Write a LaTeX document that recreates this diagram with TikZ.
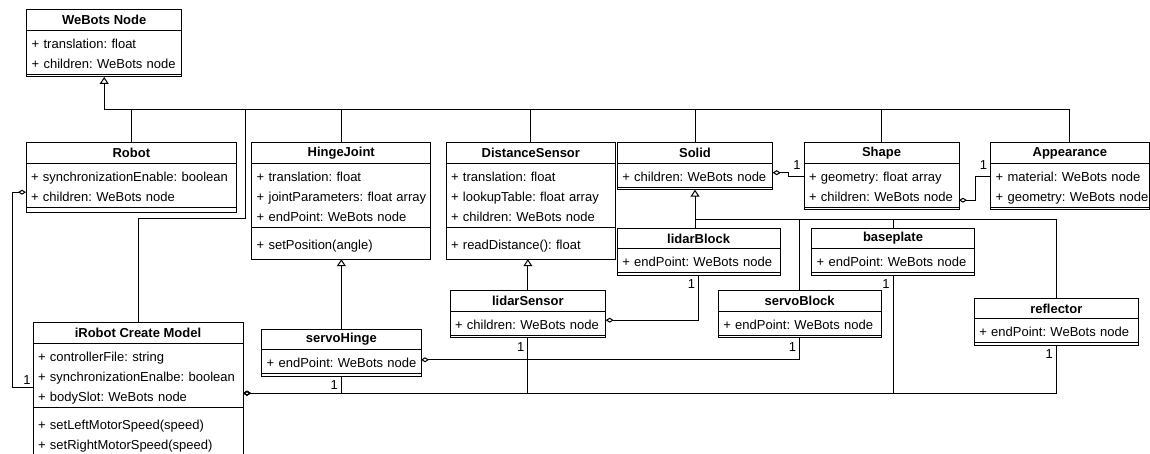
\documentclass[tikz,border=0pt]{standalone}
\usepackage{fontspec}
\setmainfont{Liberation Sans}
\usetikzlibrary{positioning, arrows.meta}
\frenchspacing
\hyphenpenalty=10000
\newcommand{\rowstrut}{\rule[-4pt]{0pt}{20pt}}

\begin{document}
\begin{tikzpicture}[x=1pt, y=-1pt, node distance=0pt, line width=1pt,
  head/.style={draw, outer sep=0, inner sep=0, minimum height=20.5, anchor=north west, font=\fontsize{13}{20}\selectfont\bfseries},
  attrs/.style={draw, outer sep=0, inner xsep=5, inner ysep=2, text width=#1-10, font=\fontsize{13}{20}\selectfont, execute at begin node={\rightskip=-30pt plus 1fil\relax\rowstrut}, execute at end node=\rowstrut},
  meths/.style={attrs=#1, inner ysep=6},
  foot/.style={draw, outer sep=0, inner sep=0, minimum width=#1, minimum height=2.5},
  aggr/.style={-{Diamond[open, length=8, width=5]}},
  inherit/.style={-{Triangle[open, length=7, width=9]}},
  mult/.style={anchor=north east, inner xsep=3, inner ysep=4, font=\fontsize{13}{13}\selectfont}]
\useasboundingbox (0,0) rectangle (1150,454);
\node (webots)[head, minimum width=155] at (26.7,10) {WeBots Node};
\node (webotsA)[attrs=155] [below=of webots] {+ translation: float\\+ children: WeBots node};
\node (webotsM)[foot=155] [below=of webotsA] {};
\node (robot)[head, minimum width=210.7] at (26,142.7) {Robot};
\node (robotA)[attrs=210.7] [below=of robot] {+ synchronizationEnable: boolean\\+ children: WeBots node};
\node (robotM)[foot=210.7, minimum height=5.5] [below=of robotA] {};
\node (hinge)[head, minimum width=179] at (251.7,142.7) {HingeJoint};
\node (hingeA)[attrs=179] [below=of hinge] {+ translation: float\\+ jointParameters: float array\\+ endPoint: WeBots node};
\node (hingeM)[meths=179] [below=of hingeA] {+ setPosition(angle)};
\node (dist)[head, minimum width=169.7] at (446,142.7) {DistanceSensor};
\node (distA)[attrs=169.7] [below=of dist] {+ translation: float\\+ lookupTable: float array\\+ children: WeBots node};
\node (distM)[meths=169.7] [below=of distA] {+ readDistance(): float};
\node (solid)[head, minimum width=155.4] at (617.3,142.7) {Solid};
\node (solidA)[attrs=155.4] [below=of solid] {+ children: WeBots node};
\node (solidM)[foot=155.4] [below=of solidA] {};
\node (shape)[head, minimum width=155] at (804,142.7) {Shape};
\node (shapeA)[attrs=155] [below=of shape] {+ geometry: float array\\+ children: WeBots node};
\node (shapeM)[foot=155] [below=of shapeA] {};
\node (appear)[head, minimum width=158.3] at (990.7,142.7) {Appearance};
\node (appearA)[attrs=158.3] [below=of appear] {+ material: WeBots node\\+ geometry: WeBots node};
\node (appearM)[foot=158.3] [below=of appearA] {};
\node (irobot)[head, minimum width=210] at (33,322.7) {iRobot Create Model};
\node (irobotA)[attrs=210] [below=of irobot] {+ controllerFile: string\\+ synchronizationEnalbe: boolean\\+ bodySlot: WeBots node};
\node (irobotM)[meths=210] [below=of irobotA] {+ setLeftMotorSpeed(speed)\\+ setRightMotorSpeed(speed)};
\node (servoH)[head, minimum width=159.3] at (261.7,329.3) {servoHinge};
\node (servoHA)[attrs=159.3] [below=of servoH] {+ endPoint: WeBots node};
\node (servoHM)[foot=159.3] [below=of servoHA] {};
\node (lidarS)[head, minimum width=155.7] at (450,290.7) {lidarSensor};
\node (lidarSA)[attrs=155.7] [below=of lidarS] {+ children: WeBots node};
\node (lidarSM)[foot=155.7] [below=of lidarSA] {};
\node (lidarB)[head, minimum width=162.7] at (617.3,228.3) {lidarBlock};
\node (lidarBA)[attrs=162.7] [below=of lidarB] {+ endPoint: WeBots node};
\node (lidarBM)[foot=162.7] [below=of lidarBA] {};
\node (servoB)[head, minimum width=162.7] at (718.3,290.7) {servoBlock};
\node (servoBA)[attrs=162.7] [below=of servoB] {+ endPoint: WeBots node};
\node (servoBM)[foot=162.7] [below=of servoBA] {};
\node (basep)[head, minimum width=162.6] at (811.7,228.3) {baseplate};
\node (basepA)[attrs=162.6] [below=of basep] {+ endPoint: WeBots node};
\node (basepM)[foot=162.6] [below=of basepA] {};
\node (refl)[head, minimum width=164] at (974.3,298.3) {reflector};
\node (reflA)[attrs=164] [below=of refl] {+ endPoint: WeBots node};
\node (reflM)[foot=164] [below=of reflA] {};
\coordinate (bus) at (webotsM.south |- 0,110);
\coordinate (irobotBend) at (245,219);
\coordinate (solidBus) at (solidM.south |- 0,220);
\draw[inherit] (bus) -- (webotsM.south);
\draw (robot.north) |- (bus);
\draw (irobot.north) |- (irobotBend) |- (bus);
\draw (hinge.north) |- (bus);
\draw (dist.north) |- (bus);
\draw (solid.north) |- (bus);
\draw (shape.north) |- (bus);
\draw (appear.north) |- (bus);
\draw[inherit] (servoH.north) -- (servoH.north |- hingeM.south);
\draw[inherit] (lidarS.north) -- (lidarS.north |- distM.south);
\draw[inherit] (solidBus) -- (solidM.south);
\draw (lidarB.north -| solidBus) -- (solidBus);
\draw (servoB.north) |- (solidBus);
\draw (basep.north) |- (solidBus);
\draw (refl.north) |- (solidBus);
\draw[aggr] ([yshift=-12]irobotA.west) node[mult, anchor=south east, inner sep=2] {1} -| ([xshift=-14, yshift=-7]robotA.west) -- ([yshift=-7]robotA.west);
\draw[aggr] (servoHM.south) node[mult] {1} |- ([yshift=-18]irobotA.east);
\draw[aggr] (lidarSM.south) node[mult] {1} |- ([yshift=-18]irobotA.east);
\draw[aggr] (basepM.south) node[mult] {1} |- ([yshift=-18]irobotA.east);
\draw[aggr] (reflM.south) node[mult] {1} |- ([yshift=-18]irobotA.east);
\draw[aggr] (servoBM.south) node[mult] {1} |- ([yshift=2]servoHA.east);
\draw[aggr] (lidarBM.south) node[mult] {1} |- ([yshift=3]lidarSA.east);
\draw[aggr] ([yshift=8.5]shapeA.west) node[mult, anchor=south east, inner ysep=7] {1} -| ([xshift=15.3, yshift=2.5]solidA.east) -- ([yshift=2.5]solidA.east);
\draw[aggr] ([yshift=8.5]appearA.west) node[mult, anchor=south east, inner ysep=7] {1} -| ([xshift=16, yshift=-15]shapeA.east) -- ([yshift=-15]shapeA.east);
\end{tikzpicture}
\end{document}
